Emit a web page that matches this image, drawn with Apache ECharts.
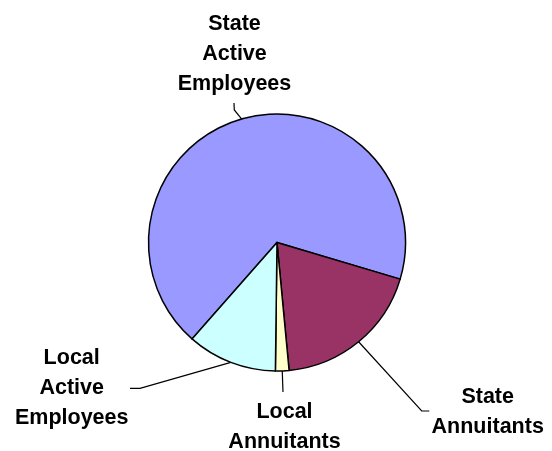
<!DOCTYPE html>
<html>
<head>
<meta charset="utf-8">
<script src="https://cdn.jsdelivr.net/npm/echarts@6/dist/echarts.min.js"></script>
<style>
html,body{margin:0;padding:0;background:#fff;}
#chart{width:552px;height:451px;}
</style>
</head>
<body>
<div id="chart"></div>
<script>
var categories = ["State\nActive\nEmployees", "State\nAnnuitants", "Local\nAnnuitants", "Local\nActive\nEmployees"];
var values = [68.1, 18.9, 1.7, 11.3];
var colors = ["#9999FF", "#993366", "#FFFFCC", "#CCFFFF"];

// label anchor (text centre) and leader path for each slice
var labelPos = [[234.5, 54.5], [487.7, 412.5], [284.5, 427], [71.7, 388.5]];
var leaderPts = [
  [[234.3, 110], [234, 103]],
  [[421.7, 411], [429.3, 411]],
  [[283, 392]],
  [[140, 388.3], [130, 388.3]]
];

var chart = echarts.init(document.getElementById('chart'), null, {renderer: 'canvas'});
chart.setOption({
  backgroundColor: '#ffffff',
  animation: false,
  series: [{
    type: 'pie',
    center: [277, 242.5],
    radius: 128.5,
    startAngle: 228.6,
    clockwise: true,
    avoidLabelOverlap: false,
    data: categories.map(function (c, i) {
      return {name: c, value: values[i], itemStyle: {color: colors[i]}};
    }),
    itemStyle: {borderColor: '#000000', borderWidth: 1.5},
    emphasis: {disabled: true},
    label: {
      show: true,
      position: 'outside',
      formatter: '{b}',
      color: '#000000',
      fontFamily: '"Liberation Sans", Arial, sans-serif',
      fontWeight: 'bold',
      fontSize: 21.5,
      lineHeight: 30,
      align: 'center'
    },
    labelLine: {
      show: true,
      length: 10,
      length2: 10,
      lineStyle: {color: '#000000', width: 1.2}
    },
    labelLayout: function (params) {
      var i = params.dataIndex;
      var start = params.labelLinePoints ? params.labelLinePoints[0] : null;
      var pts = start ? [start].concat(leaderPts[i]) : undefined;
      return {
        x: labelPos[i][0],
        y: labelPos[i][1],
        align: 'center',
        verticalAlign: 'middle',
        labelLinePoints: pts
      };
    }
  }]
});
</script>
</body>
</html>
